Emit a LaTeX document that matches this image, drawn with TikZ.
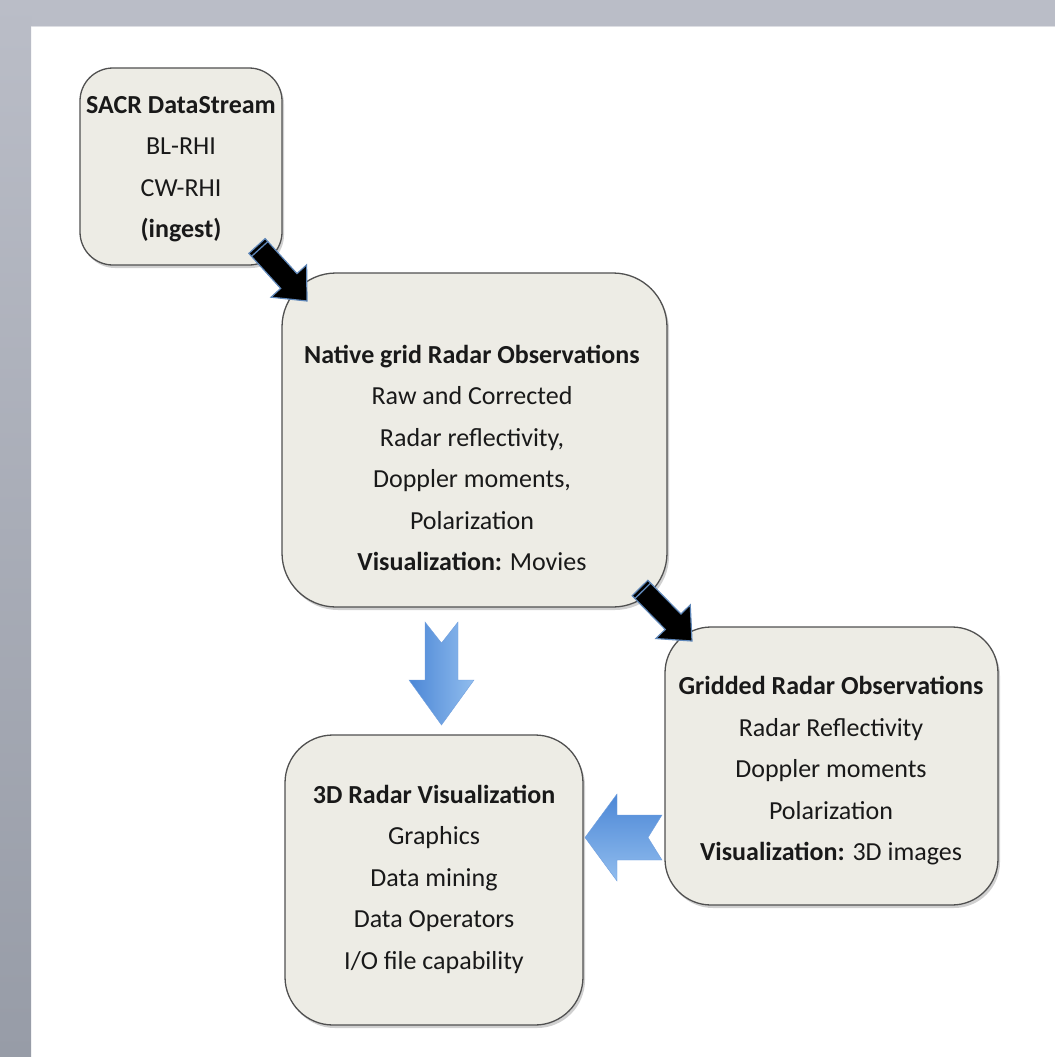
\documentclass[tikz,border=0pt]{standalone}
\usepackage{fontspec}
\setmainfont{Carlito}
\usetikzlibrary{calc,shadows}
\definecolor{boxfill}{RGB}{237,236,229}
\definecolor{boxline}{RGB}{80,80,80}
\definecolor{framegray}{RGB}{186,189,199}
\definecolor{framedark}{RGB}{151,156,167}
\definecolor{arrowedge}{RGB}{95,135,185}
\definecolor{blueA}{RGB}{76,135,214}
\definecolor{blueB}{RGB}{145,189,238}
\newcommand\blkarrow[5]{%
  \coordinate (hh) at ($(#2)!#5!(#1)$);
  \coordinate (tt) at ($(#1)!4pt!(#2)$);
  \filldraw[blkarrowstyle]
    ($(#1)!#3!90:(#2)$) -- ($(hh)!#3!90:(#2)$) -- ($(hh)!#4!90:(#2)$) -- (#2)
    -- ($(hh)!#4!-90:(#2)$) -- ($(hh)!#3!-90:(#2)$) -- ($(#1)!#3!-90:(#2)$) -- cycle;
  \draw[arrowedge, line width=1.3pt] ($(tt)!#3!90:(#2)$) -- ($(tt)!#3!-90:(#2)$);
}
\begin{document}
\begin{tikzpicture}[x=1pt,y=-1pt,
  box/.style={draw=boxline, line width=1.3pt, fill=boxfill, inner sep=0pt,
    drop shadow={shadow xshift=2pt, shadow yshift=-3pt, opacity=0.3, fill=black!60}},
  txt/.style={align=center, inner sep=0pt, font=\fontsize{26}{41.5}\selectfont, text=black!90},
  blkarrowstyle/.style={fill=black, draw=arrowedge, line width=1.2pt, line join=miter},
  bluearrow/.style={draw=blueA!80!white, line width=0.4pt}]
\useasboundingbox (0,0) rectangle (1055,1057);
% frame
\fill[white] (0,0) rectangle (1055,1057);
\fill[framegray] (0,0) rectangle (1055,26);
\shade[top color=framegray, bottom color=framedark] (0,0) rectangle (31,1057);
\draw[framegray!50!white, line width=1.2pt] (31,26.5) -- (1055,26.5);
% boxes
\node[box, rounded corners=33pt, minimum width=202pt, minimum height=197pt] (sacr) at (181,166.5) {};
\node[box, rounded corners=54pt, minimum width=385pt, minimum height=334pt] (native) at (474.5,440) {};
\node[box, rounded corners=46pt, minimum width=333pt, minimum height=278pt] (gridded) at (831.5,766) {};
\node[box, rounded corners=48pt, minimum width=298pt, minimum height=290pt] (viz) at (434,880) {};
% texts
\node[txt] (sacrT) at (181,169) {\textbf{SACR DataStream}\\BL-RHI\\CW-RHI\\\textbf{(ingest)}};
\node[txt] (nativeT) at (472,458) {\textbf{Native grid Radar Observations}\\Raw and Corrected\\Radar reflectivity,\\Doppler moments,\\Polarization\\\textbf{Visualization:} Movies};
\node[txt] (griddedT) at (831,771) {\textbf{Gridded Radar Observations}\\Radar Reflectivity\\Doppler moments\\Polarization\\\textbf{Visualization:} 3D images};
\node[txt] (vizT) at (434,879) {\textbf{3D Radar Visualization}\\Graphics\\Data mining\\Data Operators\\I/O file capability};
% black arrows
\coordinate (a1s) at (257,246);
\coordinate (a1e) at (307,301);
\blkarrow{a1s}{a1e}{11pt}{24pt}{27pt}
\coordinate (a2s) at (640,588);
\coordinate (a2e) at (692,641);
\blkarrow{a2s}{a2e}{11pt}{24pt}{27pt}
% blue down arrow
\shade[left color=blueA, right color=blueB, bluearrow]
  (425,622) -- (441.5,643) -- (458,622) -- (458,680) -- (474,680) -- (441.5,725)
  -- (409,680) -- (425,680) -- cycle;
% blue left arrow
\shade[top color=blueA, bottom color=blueB, bluearrow]
  (662,815) -- (648,837.5) -- (662,860) -- (617,860) -- (617,881) -- (585,837.5)
  -- (617,794) -- (617,815) -- cycle;
\end{tikzpicture}
\end{document}
